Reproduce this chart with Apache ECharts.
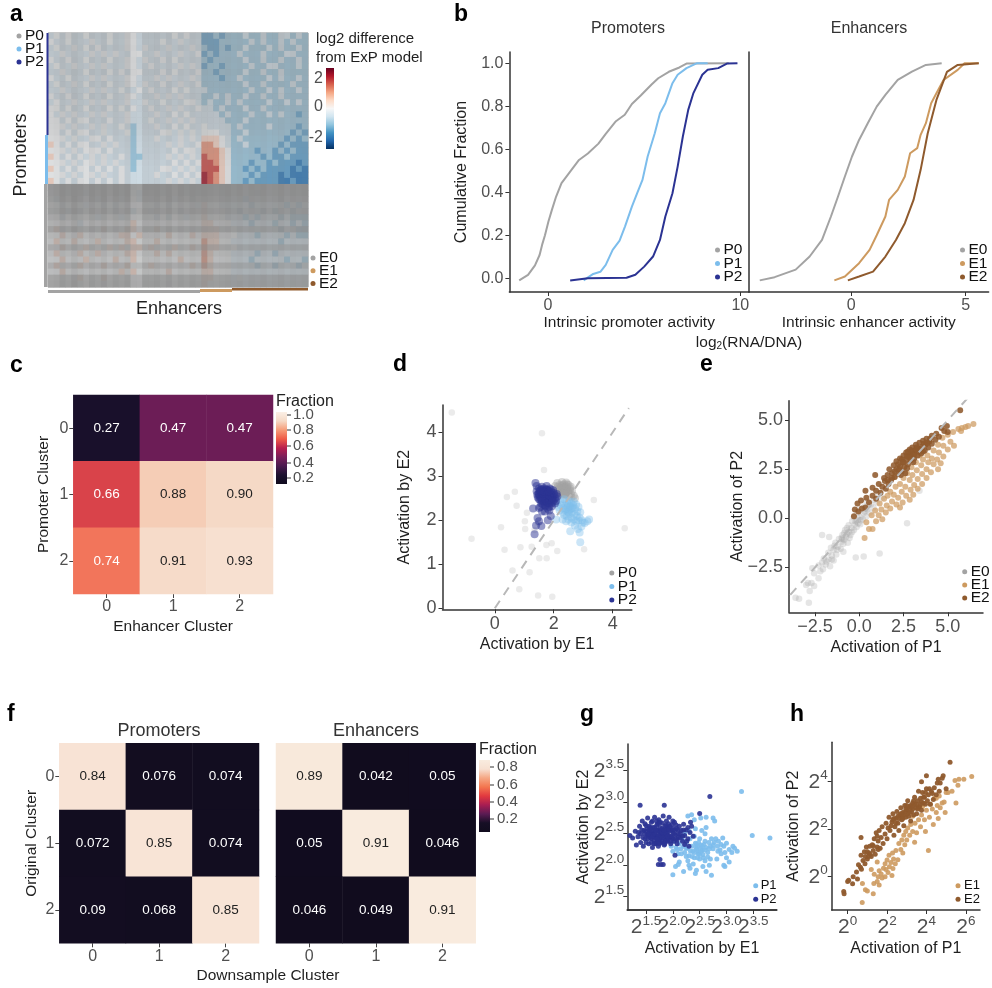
<!DOCTYPE html>
<html><head><meta charset="utf-8">
<style>html,body{margin:0;padding:0;background:#fff}#c{width:992px;height:988px}</style>
<script src="https://cdn.jsdelivr.net/npm/echarts@6/dist/echarts.min.js"></script>
</head><body><div id="c"></div>
<script>
// ---------- panel a: coarse reading of the mean colour of the clustered matrix (digit = value code)
const heatA = [
"45454454445445544444454544"+"22323"+"3343343344343",
"54454445445445544445445444"+"22233"+"3334343343433",
"45445454544445545444544454"+"32232"+"3343334343343",
"44544445454544554454445445"+"23233"+"3433343334433",
"54454454445445545445454444"+"32333"+"3343343343343",
"45445445454445544544445454"+"23323"+"3334334433343",
"44544454445454554445454445"+"33233"+"3343343343333",
"54454445454445544454544454"+"33323"+"3433334343343",
"45445454445445545445445445"+"33333"+"3343343333433",
"44544445454454454544454544"+"43333"+"3334334343343",
"54454454445445544454545444"+"33434"+"3343343343333",
"45445445454445445445444554"+"34334"+"3433334334343",
"55454454445454544544545445"+"44343"+"3343343333333",
"54545445454445444454454544"+"44434"+"3334334343323",
"55454554445445444544545454"+"44443"+"3343333333333",
"55545445454454344454454544"+"54444"+"3433334333323",
"55454554454445344445545454"+"55544"+"3343333333232",
"55545445545444344454445454"+"66654"+"3433333332323",
"65454554454544344444545445"+"77654"+"3343333323222",
"55545455545444344444454554"+"77765"+"3333233232322",
"65454545454454334444545454"+"87765"+"3333323223222",
"55545455454544344444454545"+"88765"+"3332332322212",
"65454554545454344445545454"+"88865"+"3323232222121",
"55545455454454444454454545"+"98765"+"3332322212111",
"65454554545454444444545454"+"98765"+"3323222211211",
"55455455455454554545455455"+"55544"+"4444444444444",
"55545545545545545554555454"+"55544"+"4444344444444",
"54555455455545545455545545"+"55544"+"4434444434444",
"55455545545455555545455554"+"65544"+"4443444443434",
"55545455555455455455554555"+"65554"+"4344434344344",
"55455555455545555545455455"+"65554"+"4434344434333",
"55555455555555655555555555"+"66555"+"4443444344343",
"56555555565556655565555555"+"66655"+"5444444434433",
"55655655555566565555655565"+"66655"+"5444344443433",
"56556555655556655565555555"+"76655"+"4444444434444",
"55655565556565665655565565"+"76655"+"5444444444444",
"56555655655556655565655555"+"76555"+"4444344344444",
"55655565555655655555556555"+"76555"+"4443444443443",
"56555655565556555655555565"+"76555"+"4444344344434",
"55655555555565655555655555"+"66555"+"4444444444444",
"55555655565555555555555555"+"66555"+"4544444444444",
"55555555555555555555555555"+"65555"+"4444444444444"];
const codeVal = [-2.4,-1.8,-1.3,-.85,-.35,-.05,.45,1.1,1.7,2.3];
const missRow = [.48,.46,.48,.45,.47,.46,.48,.45,.47,.45,.47,.44,.45,.43,.43,.42,.4,.36,.34,.32,.3,.28,.26,.26,.26,
  .97,.96,.93,.86,.9,.8,.72,.86,.66,.6,.78,.62,.56,.74,.6,.82,.84];
const colAdj = [-.06,-.03,.05,.0,.08,.02,-.03,.05,.0,.06,-.02,.04,.0,.05,-.12,-.14,.03,.02,.05,.0,.06,-.02,.04,.0,.05,.02,
  .04,.02,.0,.02,.04,.0,.03,-.02,.02,.0,.03,-.02,.0,.03,-.02,.02,.0,.02];
const rdbuStops = [[-2.75,'#08306b'],[-2.1,'#1c62a8'],[-1.5,'#3f8cc3'],[-.9,'#93c4de'],[-.3,'#dde9f1'],[0,'#f7f7f7'],[.3,'#fbe5da'],[.9,'#f4a98a'],[1.5,'#d75f4f'],[2.1,'#b2182b'],[2.75,'#6d0a1c']];
// ---------- panel b
const bP0 = [[-1.5,-.01],[-1.04,.016],[-.68,.06],[-.44,.108],[-.31,.155],[-.16,.2],[.02,.264],[.2,.318],[.42,.38],[.7,.442],[1.15,.496],[1.61,.55],[2.07,.58],[2.62,.626],[2.99,.67],[3.53,.73],[3.99,.76],[4.36,.81],[4.82,.85],[5.37,.9],[5.73,.93],[6.28,.96],[6.83,.98],[7.2,.998],[9.4,1]];
const bP1 = [[1.85,-.01],[2.35,.02],[2.72,.03],[3,.062],[3.36,.132],[3.72,.175],[4,.24],[4.36,.333],[4.63,.395],[4.91,.457],[5.18,.566],[5.55,.674],[5.82,.767],[6.1,.814],[6.47,.907],[6.74,.946],[7.2,.977],[7.75,1],[8.3,1]];
const bP2 = [[1.15,-.01],[2.07,0],[4.08,.002],[4.54,.016],[5,.054],[5.46,.101],[5.82,.178],[6.1,.287],[6.47,.395],[6.74,.519],[7.01,.659],[7.29,.783],[7.56,.861],[8.02,.946],[8.3,.969],[8.85,.977],[9.3,.998],[9.85,1]];
const bE0 = [[-4.0,-.01],[-3.35,.005],[-2.43,.04],[-1.82,.101],[-1.28,.178],[-.89,.287],[-.58,.38],[-.28,.473],[.03,.566],[.34,.643],[.72,.721],[1.11,.798],[1.49,.853],[2.03,.922],[2.65,.961],[3.26,.992],[3.95,1]];
const bE1 = [[-.74,-.01],[-.28,.008],[.34,.07],[.8,.132],[1.11,.2],[1.49,.287],[1.65,.364],[2.03,.411],[2.34,.473],[2.57,.581],[2.88,.605],[3.03,.667],[3.26,.721],[3.49,.814],[3.72,.86],[4.03,.922],[4.65,.969],[4.95,1],[5.57,1]];
const bE2 = [[-.15,-.01],[.34,.008],[.95,.031],[1.49,.101],[1.95,.178],[2.34,.256],[2.72,.364],[3.03,.504],[3.34,.674],[3.72,.829],[4.18,.96],[4.65,.992],[5.57,1]];
// ---------- panels c, f
const catLabels = ['0','1','2'];
const heatC = [[0,0,.27],[1,0,.47],[2,0,.47],[0,1,.66],[1,1,.88],[2,1,.90],[0,2,.74],[1,2,.91],[2,2,.93]];
const heatFP = [[0,0,.84],[1,0,.076],[2,0,.074],[0,1,.072],[1,1,.85],[2,1,.074],[0,2,.09],[1,2,.068],[2,2,.85]];
const heatFE = [[0,0,.89],[1,0,.042],[2,0,.05],[0,1,.05],[1,1,.91],[2,1,.046],[0,2,.046],[1,2,.049],[2,2,.91]];
const rocket = ['#0f0b1e','#1d1230','#4a1a4e','#7a1f5a','#b81f4e','#ef5b47','#f69c78','#f5d9c6','#fbf0e6'];
const rocketF = ['#110c1e','#160f25','#5a1b53','#a81d52','#e2393f','#f3764f','#f5a784','#f7e0d1','#f9ecdf'];
// ---------- panel d
const dOut = [[-1.46,4.45],[1.6,3.98],[1.67,3.14],[.41,2.53],[.68,2.65],[.74,2.33],[1.09,2.17],[1.02,1.98],[1.03,1.8],[.21,1.84],[-.79,1.58],[.33,1.33],[.87,1.39],[1.25,1.4],[1.75,1.44],[2.12,1.3],[1.51,1.14],[1.76,1.14],[.6,.86],[1.18,.82],[.83,.43],[1.47,.29],[1.95,.26],[3.03,1.34],[3.36,2.46],[4.41,1.82],[1.35,1.78],[1.47,1.93],[1.93,1.48]];
const dP0 = [[2.05,2.78],[2.12,2.85],[2.2,2.8],[2.28,2.87],[2.36,2.82],[2.42,2.86],[2.5,2.8],[2.58,2.76],[2.15,2.7],[2.22,2.74],[2.3,2.72],[2.38,2.76],[2.46,2.72],[2.54,2.68],[2.62,2.66],[2.1,2.62],[2.18,2.64],[2.26,2.66],[2.34,2.66],[2.42,2.64],[2.5,2.62],[2.58,2.6],[2.68,2.56],[2.28,2.58],[2.36,2.58],[2.44,2.56],[2.52,2.54],[2.6,2.52],[2.72,2.5],[2.3,2.8],[2.4,2.7],[2.32,2.62],[2.2,2.58],[2.46,2.82],[2.24,2.7],[2.56,2.72],[2.34,2.74],[2.14,2.76],[2.48,2.66],[2.38,2.6],[2.26,2.78],[2.44,2.76]];
const dP1 = [[2.1,2.4],[2.2,2.46],[2.28,2.4],[2.36,2.48],[2.44,2.42],[2.52,2.44],[2.6,2.38],[2.68,2.42],[2.76,2.36],[2.84,2.3],[2.16,2.3],[2.24,2.34],[2.32,2.28],[2.4,2.34],[2.48,2.3],[2.56,2.32],[2.64,2.28],[2.72,2.26],[2.8,2.2],[2.9,2.18],[2.2,2.22],[2.3,2.18],[2.38,2.24],[2.46,2.2],[2.54,2.24],[2.62,2.18],[2.7,2.14],[2.78,2.1],[2.88,2.06],[2.36,2.12],[2.44,2.1],[2.52,2.14],[2.6,2.06],[2.68,2.02],[2.76,1.98],[2.84,2.0],[2.95,2.0],[3.05,1.94],[3.14,1.98],[3.2,2.02],[2.94,1.86],[2.98,1.95],[2.82,1.8],[2.88,1.72],[2.9,1.5],[2.3,2.02],[2.08,2.02],[2.42,1.98],[2.56,1.75],[2.6,1.95],[2.5,2.02],[2.72,1.88],[2.5,2.36],[2.42,2.26],[2.58,2.26],[2.66,2.34],[2.5,2.18]];
const dP2 = [[1.42,2.66],[1.48,2.6],[1.46,2.52],[1.5,2.72],[1.54,2.46],[1.52,2.66],[1.56,2.56],[1.6,2.76],[1.58,2.38],[1.62,2.66],[1.64,2.5],[1.66,2.58],[1.68,2.72],[1.66,2.42],[1.7,2.34],[1.72,2.64],[1.74,2.52],[1.76,2.78],[1.74,2.44],[1.78,2.58],[1.8,2.68],[1.82,2.48],[1.84,2.38],[1.84,2.6],[1.86,2.72],[1.88,2.54],[1.9,2.44],[1.92,2.64],[1.94,2.32],[1.96,2.56],[1.98,2.68],[2.0,2.46],[2.02,2.58],[2.06,2.5],[2.04,2.38],[2.1,2.6],[1.6,2.6],[1.7,2.5],[1.76,2.62],[1.68,2.46],[1.82,2.56],[1.62,2.54],[1.74,2.7],[1.9,2.58],[1.56,2.62],[1.86,2.46],[1.72,2.56],[1.8,2.6],[1.66,2.66],[1.96,2.5],[1.52,2.54],[1.78,2.5],[1.88,2.62],[1.64,2.7],[1.7,2.6],
 [1.44,2.58],[1.5,2.48],[1.5,2.6],[1.58,2.48],[1.58,2.7],[1.64,2.36],[1.64,2.6],[1.72,2.48],[1.72,2.32],[1.78,2.68],[1.8,2.4],[1.86,2.56],[1.92,2.38],[1.94,2.5],[2.0,2.62],[2.08,2.44],[1.76,2.38],[1.68,2.64],[1.84,2.66],[1.54,2.68],[1.6,2.44],[1.96,2.42],[2.12,2.54],[1.84,2.3],[1.9,2.7],
 [1.45,2.05],[1.5,1.98],[1.4,1.88],[1.35,1.68],[1.58,1.87],[1.3,2.27],[1.38,2.85],[1.42,2.78],[1.9,2.1],[1.8,2.0],[1.7,2.2],[1.55,2.3],[1.85,2.22],[1.5,2.28],[1.6,2.2],[1.8,2.26]];
const dLine = [[0,0],[4.55,4.55]];
// ---------- panel e
const eE0 = [[-3.6,-4.05],[-3.4,-4.1],[-2.85,-4.3],[-3.0,-3.4],[-2.8,-3.7],[-2.7,-3.3],[-2.55,-3.45],[-2.9,-3.3],[-2.3,-3.05],[-2.55,-2.8],[-2.65,-2.55],[-2.2,-2.7],[-2.05,-2.6],[-2.3,-2.4],[-2.1,-2.25],[-1.9,-2.35],[-1.75,-2.1],[-2.0,-2.05],[-1.65,-2.45],[-1.55,-1.9],[-1.75,-1.75],[-1.45,-1.6],[-1.3,-1.85],[-1.6,-1.5],[-1.2,-1.45],[-1.35,-1.25],[-1.05,-1.55],[-1.0,-1.2],[-1.15,-1.05],[-.85,-1.1],[-.95,-.85],[-.75,-.95],[-.65,-1.25],[-.6,-.7],[-.8,-.6],[-.5,-.85],[-.45,-.5],[-.6,-.35],[-.3,-.6],[-.25,-.3],[-.4,-.15],[-.15,-.45],[-.1,-.1],[-.3,.05],[.05,-.3],[.05,.05],[-.1,.25],[.2,-.05],[.25,.25],[.05,.45],[.4,.1],[.45,.45],[.3,.6],[.6,.3],[.65,.7],[.45,.85],[.8,.55],[.85,.95],[1.0,.8],[1.1,1.25],[1.3,1.05],[-1.7,-.95],[-2.1,-.85],[-.2,-2.0],[1.15,-1.8],[.25,-1.95],[2.7,-.25],[3.4,1.4],[2.2,2.3],[2.6,3.1],[-.9,-1.7],[-1.45,-2.15],
 [-1.0,-1.0],[-.9,-1.3],[-.7,-.8],[-.55,-1.0],[-.4,-.7],[-.2,-.15],[-.05,-.25],[.1,-.1],[.3,.35],[-.85,-.75],[-1.25,-1.6],[-1.4,-1.4],[-1.85,-2.2],[-1.55,-2.1],[-.7,-.5],[-.95,-1.05]];
const eE1 = [[.3,-1.0],[.55,-.55],[.75,-.55],[.4,-.2],[.95,-.15],[.7,.15],[1.1,.15],[1.3,-.05],[.9,.4],[1.25,.45],[1.5,.3],[1.15,.75],[1.55,.65],[1.75,.5],[1.4,1.0],[1.85,.85],[2.1,.7],[2.3,.55],[1.95,1.2],[2.2,1.05],[2.45,.8],[1.75,1.35],[2.05,1.6],[2.4,1.35],[2.65,1.15],[2.85,.95],[2.3,1.75],[2.6,1.6],[2.9,1.45],[3.05,1.2],[2.5,2.05],[2.85,1.95],[3.1,1.7],[3.3,1.5],[2.7,2.3],[3.0,2.2],[3.3,2.0],[3.55,1.75],[2.95,2.6],[3.25,2.45],[3.55,2.25],[3.8,2.05],[3.2,2.85],[3.5,2.7],[3.8,2.5],[4.05,2.35],[3.6,3.0],[3.9,2.85],[4.2,2.75],[4.45,2.5],[3.85,3.2],[4.1,3.05],[4.4,3.0],[4.6,2.8],[4.2,3.45],[4.5,3.35],[4.75,3.15],[4.45,3.75],[4.75,3.7],[5.0,3.5],[5.15,3.9],[4.7,4.1],[5.0,4.25],[5.35,3.7],[5.3,4.4],[5.6,4.55],[5.8,4.6],[6.0,4.65],[6.45,4.8],[6.15,4.7],[5.75,4.45],[2.0,2.1],[1.6,1.15],[3.4,3.2]];
const eE2 = [[-.3,.1],[-.25,.45],[-.05,.35],[-.1,.75],[.15,.5],[.1,.9],[.35,.55],[.4,1.05],[.55,.8],[.35,1.4],[.75,1.15],[.75,1.55],[.95,1.0],[.95,1.4],[1.1,1.75],[1.2,1.3],[1.3,1.6],[.9,2.2],[1.45,1.9],[1.5,1.5],[1.6,2.2],[1.65,1.75],[1.7,2.5],[1.8,1.95],[1.85,2.3],[1.95,2.7],[2.0,2.1],[2.1,2.5],[2.1,2.9],[2.2,2.25],[2.3,2.65],[2.3,3.05],[2.4,2.4],[2.45,2.85],[2.5,3.2],[2.55,2.6],[2.65,3.0],[2.65,3.35],[2.75,2.75],[2.8,3.2],[2.85,3.5],[2.9,2.95],[3.0,3.3],[3.0,3.6],[3.1,3.05],[3.15,3.45],[3.2,3.75],[3.3,3.2],[3.35,3.55],[3.4,3.85],[3.5,3.3],[3.55,3.65],[3.6,3.95],[3.7,3.45],[3.75,3.75],[3.8,4.05],[3.9,3.6],[3.95,3.9],[4.1,3.8],[4.1,4.2],[4.3,4.0],[4.35,4.3],[4.5,4.15],[4.65,4.6],[4.8,4.45],[4.95,4.7],[5.0,4.4],[2.6,2.3],[2.2,2.75],[3.25,3.6],[2.7,3.15],[3.05,2.85],[2.4,3.0],[2.9,3.25],[3.45,3.5],[1.4,2.05],[5.7,5.5],
 [2.35,2.2],[2.5,2.85],[2.85,3.1],[2.95,3.45],[3.1,3.25],[3.3,3.4],[3.5,3.5],[3.6,3.4],[3.65,3.8],[2.25,2.5],[2.0,2.4],[1.85,2.05],[2.7,2.55],[2.75,3.4],[3.2,3.5],[3.85,3.85],[4.0,4.05],[1.6,1.95]];
const eLine = [[-3.9,-3.9],[6.62,6.62]];
// ---------- panel g (log2 values)
const gP1 = [[1.97,2.3],[2.0,2.22],[2.03,2.38],[2.06,2.28],[2.1,2.18],[2.12,2.34],[2.15,2.26],[2.18,2.4],[2.2,2.3],[2.22,2.2],[2.25,2.36],[2.27,2.27],[2.3,2.15],[2.32,2.42],[2.35,2.3],[2.37,2.22],[2.4,2.46],[2.42,2.35],[2.45,2.26],[2.47,2.18],[2.5,2.42],[2.52,2.32],[2.55,2.24],[2.57,2.12],[2.6,2.38],[2.62,2.28],[2.65,2.2],[2.67,2.36],[2.7,2.3],[2.72,2.42],[2.75,2.26],[2.77,2.36],[2.8,2.42],[2.83,2.3],[2.85,2.38],[2.88,2.24],[2.9,2.33],[2.93,2.43],[2.95,2.3],[2.97,2.2],[3.0,2.35],[3.05,2.25],[3.1,2.2],[3.15,2.27],[3.2,2.22],[3.12,2.3],[2.4,2.12],[2.5,2.1],[2.6,2.07],[2.65,2.13],[2.7,2.1],[2.82,2.1],[2.9,2.18],[2.95,2.0],[3.0,2.12],[2.97,1.98],[3.05,2.05],[2.3,2.0],[2.12,2.05],[2.05,1.98],[2.2,1.9],[2.32,1.95],[2.44,1.92],[2.56,1.98],[2.62,1.9],[2.68,2.0],[2.42,1.87],[2.72,1.84],[2.0,1.85],[2.1,2.01],[2.28,2.07],[2.38,2.02],[2.48,2.2],[2.58,2.33],[2.43,2.28],[2.33,2.22],[2.52,2.26],[2.46,2.3],[2.55,2.3],[2.48,2.36],[2.6,2.5],[2.62,2.6],[2.54,2.55],[2.75,2.75],[2.78,2.7],[2.62,2.76],[2.52,2.75],[2.4,2.72],[2.35,2.8],[2.28,2.78],[2.42,2.58],[2.3,2.55],[2.22,2.5],[3.28,3.17],[3.48,2.47],[3.81,2.43],
 [2.44,2.24],[2.5,2.17],[2.53,2.22],[2.4,2.2],[2.36,2.14],[2.56,2.17],[2.44,2.33],[2.25,2.27],[2.16,2.18],[2.08,2.25],[2.6,2.24],[2.75,2.32],[2.84,2.22],[2.68,2.26],[2.46,2.12],[2.25,2.14]];
const gP2 = [[1.2,2.47],[1.25,2.43],[1.3,2.54],[1.32,2.32],[1.35,2.45],[1.38,2.62],[1.4,2.36],[1.4,2.5],[1.43,2.7],[1.45,2.3],[1.46,2.55],[1.48,2.42],[1.5,2.63],[1.52,2.48],[1.53,2.75],[1.55,2.34],[1.56,2.56],[1.58,2.44],[1.6,2.68],[1.6,2.5],[1.62,2.28],[1.63,2.6],[1.65,2.4],[1.66,2.76],[1.67,2.52],[1.68,2.34],[1.7,2.64],[1.7,2.46],[1.72,2.56],[1.73,2.3],[1.74,2.72],[1.75,2.42],[1.76,2.6],[1.77,2.5],[1.78,2.36],[1.8,2.67],[1.8,2.46],[1.82,2.78],[1.82,2.56],[1.84,2.32],[1.85,2.62],[1.85,2.42],[1.87,2.52],[1.88,2.7],[1.9,2.38],[1.9,2.6],[1.92,2.47],[1.93,2.76],[1.95,2.55],[1.96,2.34],[1.98,2.64],[1.98,2.44],[2.0,2.52],[2.02,2.38],[2.03,2.68],[2.05,2.48],[2.07,2.58],[2.08,2.4],[2.1,2.5],[2.12,2.62],[2.14,2.44],[2.16,2.55],[2.18,2.38],[2.2,2.65],[2.22,2.47],[2.25,2.56],[2.28,2.42],[2.32,2.52],[2.33,2.68],[1.62,2.54],[1.68,2.44],[1.74,2.5],[1.7,2.56],[1.78,2.44],[1.82,2.48],[1.86,2.56],[1.6,2.42],[1.66,2.6],[1.58,2.52],[1.76,2.54],[1.72,2.4],[1.9,2.52],[1.94,2.44],[1.84,2.5],[1.54,2.46],[1.98,2.56],[1.64,2.48],[1.5,2.54],[1.44,2.44],[1.8,2.38],[2.04,2.56],[2.0,2.42],[1.56,2.62],[1.88,2.44],[1.92,2.58],[2.1,2.44],[1.7,2.7],[2.22,2.33],[2.3,2.3],[2.38,2.46],[1.39,2.95],[1.84,2.95],[2.69,3.09],[2.04,2.16],[1.76,2.09],[1.73,2.01],[1.82,2.01],[1.78,2.01],[2.35,2.62],[2.5,2.82],
 [1.48,2.5],[1.53,2.42],[1.56,2.5],[1.6,2.36],[1.63,2.46],[1.66,2.5],[1.7,2.36],[1.73,2.46],[1.76,2.44],[1.78,2.54],[1.8,2.52],[1.83,2.44],[1.86,2.38],[1.88,2.5],[1.92,2.42],[1.94,2.62],[1.96,2.46],[2.0,2.58],[2.02,2.5],[2.06,2.42],[2.1,2.56],[2.14,2.5],[2.18,2.46],[2.2,2.56],[1.52,2.58],[1.58,2.6],[1.62,2.7],[1.68,2.56],[1.72,2.66],[1.76,2.68],[1.8,2.58],[1.84,2.56],[1.87,2.64],[1.92,2.66],[2.0,2.7],[2.06,2.64],[1.65,2.34],[1.75,2.34],[1.85,2.34],[1.95,2.38],[2.08,2.34],[1.42,2.56],[1.36,2.52],[2.26,2.38],[2.28,2.6],[1.5,2.36],[1.48,2.66],[1.6,2.56],[1.7,2.42],[1.9,2.46]];
const sup1 = [1.5,2,2.5,3,3.5];
const sup1A = [1.5,2.5,3.5];
const sup1B = [2,3];
// ---------- panel h (log2 values)
const hE1 = [[.74,-1.08],[.75,-.28],[.9,-.55],[1.0,-.6],[1.3,-.72],[1.33,-.28],[1.35,.1],[1.55,.0],[1.6,.25],[1.6,-.35],[1.7,.12],[1.75,-.05],[1.82,.36],[1.9,.55],[1.9,.0],[1.95,.3],[2.0,.7],[2.05,.18],[2.1,.9],[2.12,.42],[2.2,.6],[2.28,1.0],[2.3,.35],[2.33,.75],[2.42,.55],[2.45,1.1],[2.55,.72],[2.6,1.4],[2.7,1.15],[2.75,1.55],[2.8,1.0],[2.85,1.75],[2.9,1.35],[2.95,1.9],[3.0,1.55],[3.05,2.05],[3.15,1.75],[3.2,2.2],[3.3,1.9],[3.4,1.45],[3.42,2.25],[3.5,1.85],[3.6,2.4],[3.7,2.1],[3.75,2.6],[3.8,2.95],[3.9,2.4],[3.95,1.9],[4.0,2.8],[4.1,1.1],[4.15,2.5],[4.2,3.05],[4.3,2.85],[4.35,2.2],[4.4,3.3],[4.5,2.7],[4.55,3.0],[4.6,2.45],[4.65,3.4],[4.7,2.9],[4.8,3.1],[4.9,3.15],[4.95,2.7],[5.0,3.55],[5.1,3.55],[5.3,3.6],[5.5,3.1],[5.45,4.05],[5.6,3.85],[5.65,4.1],[5.9,4.1],[6.3,4.22],[4.5,3.3],[3.3,2.55],[2.25,.05],[1.5,-.2],[1.2,.3],[1.5,.62]];
const hE2 = [[-.2,-.62],[-.18,-.72],[.0,-.2],[.05,-.15],[.25,-.3],[.28,0],[.45,.2],[.5,-.1],[.55,.5],[.65,.4],[.68,.9],[.7,.32],[.78,.68],[.85,1.05],[.88,.55],[.95,1.25],[1.0,.75],[1.08,1.0],[1.12,1.28],[1.2,.85],[1.25,1.35],[1.3,1.1],[1.4,.95],[1.35,1.6],[1.45,1.85],[1.5,1.25],[1.55,1.5],[1.6,1.95],[1.7,1.65],[1.75,2.1],[1.8,1.4],[1.9,1.8],[1.95,2.25],[2.0,1.6],[2.05,2.05],[2.1,2.5],[2.15,1.95],[2.25,2.3],[2.3,2.65],[2.35,1.75],[2.4,2.1],[2.45,2.45],[2.5,2.75],[2.55,2.25],[2.6,1.95],[2.65,2.6],[2.7,2.9],[2.75,2.4],[2.8,2.7],[2.85,2.15],[2.9,3.0],[2.95,2.5],[3.0,2.8],[3.05,3.2],[3.1,2.55],[3.15,2.95],[3.2,2.35],[3.25,2.75],[3.3,3.1],[3.35,2.6],[3.4,3.35],[3.45,2.9],[3.5,2.65],[3.55,3.2],[3.6,3.6],[3.65,2.95],[3.7,3.3],[3.75,2.8],[3.8,3.55],[3.85,3.1],[3.9,3.35],[3.95,3.05],[4.0,3.7],[4.05,3.2],[4.1,3.45],[4.2,3.05],[4.25,3.6],[4.35,3.25],[4.4,3.75],[4.5,3.45],[4.55,3.95],[4.65,3.6],[4.7,3.95],[4.8,4.15],[2.75,2.55],[2.55,2.55],[3.05,2.65],[3.15,2.7],[2.9,2.7],[3.3,2.85],[3.5,3.05],[2.35,2.45],[2.95,2.85],[3.2,3.0],[3.0,3.0],[3.6,2.9],[3.75,3.15],[1.65,1.2],[1.0,1.05],[3.75,4.0],[4.0,4.25],[4.85,4.25],[4.6,4.1],[5.0,3.7],[5.2,4.82],[.68,1.65],
 [3.4,3.05],[3.55,2.85],[3.25,2.95],[3.1,2.85],[3.35,3.2],[3.7,3.05],[3.85,3.35],[2.85,2.6],[2.7,2.65],[2.6,2.45],[2.8,2.45],[2.45,2.25],[2.2,2.15],[2.3,2.4],[1.15,.95],[1.05,.85],[1.3,1.3],[1.55,1.15],[1.5,1.7],[.9,.85],[4.3,3.5],[4.15,3.7],[3.95,3.55]];
const sup2 = [0,2,4,6];
const supY = [0,2,4];

const FONT = 'Liberation Sans, Arial, sans-serif';
const INK = '#1f1f1f', TICK = '#505050', AX = '#333';
const colors = {P0:'#a3a3a3',P1:'#7cbdec',P2:'#2b3393',E0:'#a3a3a3',E1:'#cd9a5f',E2:'#8f5a2d'};

function hex(h){return [1,3,5].map(i=>parseInt(h.slice(i,i+2),16));}
function rdbu(v){
  for(let i=1;i<rdbuStops.length;i++){
    if(v<=rdbuStops[i][0]){const a=rdbuStops[i-1],b=rdbuStops[i],t=(v-a[0])/(b[0]-a[0]),A=hex(a[1]),B=hex(b[1]);return A.map((x,k)=>x+(B[k]-x)*t);}
  }
  return hex(rdbuStops[rdbuStops.length-1][1]);
}
function cellColor(d,r,c){
  const m=Math.min(1,Math.max(0,missRow[r]+colAdj[c])), col=rdbu(codeVal[d]), g=[140,140,140];
  return 'rgb('+col.map((x,k)=>Math.round(x*(1-m)+g[k]*m)).join(',')+')';
}
const grids=[],xAxes=[],yAxes=[],series=[],graphic=[];
function addGrid(x0,y0,x1,y1,xa,ya){
  grids.push({left:x0,top:y0,width:x1-x0,height:y1-y0,containLabel:false,show:false});
  const i=grids.length-1;
  xAxes.push(Object.assign({gridIndex:i},xa)); yAxes.push(Object.assign({gridIndex:i},ya));
  return i;
}
function valAxis(min,max,ticks,o){
  o=o||{};
  return {type:'value',min,max,scale:true,splitLine:{show:false},name:o.name,nameLocation:'middle',nameGap:o.gap,nameMoveOverlap:false,
    nameTextStyle:{fontFamily:FONT,fontSize:o.nameSize||16,color:INK,verticalAlign:'middle'},
    axisLine:{show:true,onZero:false,lineStyle:{color:AX,width:o.lw||1.5}},
    axisTick:{show:o.noTick?false:true,length:4,lineStyle:{color:AX,width:1},customValues:ticks},
    axisLabel:{show:o.noLabel?false:true,interval:0,hideOverlap:false,showMinLabel:true,showMaxLabel:true,customValues:ticks,margin:o.margin||6,fontFamily:FONT,fontSize:o.size||16,color:TICK,formatter:o.fmt,rich:o.rich}};
}
function catAxis(o){
  o=o||{};
  return {type:'category',data:catLabels,inverse:!!o.inverse,name:o.name,nameLocation:'middle',nameGap:o.gap,nameMoveOverlap:false,
    nameTextStyle:{fontFamily:FONT,fontSize:o.nameSize||15.5,color:INK,verticalAlign:'middle'},
    axisLine:{show:false},splitArea:{show:false},splitLine:{show:false},
    axisTick:{show:o.noTick?false:true,length:4,alignWithLabel:true,lineStyle:{color:'#444'}},
    axisLabel:{show:o.noLabel?false:true,margin:5,fontFamily:FONT,fontSize:16,color:TICK}};
}
function T(x,y,text,o){
  o=o||{};
  graphic.push({type:'text',x,y,rotation:o.rot||0,silent:true,z:50,style:{text,x:0,y:0,fontFamily:FONT,fontSize:o.size||15,fontWeight:o.weight||'normal',fill:o.color||INK,textAlign:o.align||'left',textVerticalAlign:'middle'}});
}
function R(x,y,w,h,fill){graphic.push({type:'rect',silent:true,z:50,shape:{x,y,width:w,height:h},style:{fill}});}
function L(x1,y1,x2,y2,c){graphic.push({type:'line',silent:true,z:50,shape:{x1,y1,x2,y2},style:{stroke:c||'#333',lineWidth:1}});}
function dot(x,y,c,r){graphic.push({type:'circle',silent:true,z:50,shape:{cx:x,cy:y,r:r||2.5},style:{fill:c}});}
function leg(x,y,step,names,size,tx){names.forEach((n,i)=>{dot(x,y+i*step,colors[n]);T(x+(tx||6),y+i*step,n,{size:size||15,color:'#111'});});}
function bar(x,y,w,h,stops){
  graphic.push({type:'rect',silent:true,z:50,shape:{x,y,width:w,height:h},style:{fill:new echarts.graphic.LinearGradient(0,0,0,1,stops.map((c,i)=>({offset:i/(stops.length-1),color:c})))}});
}

// panel letters
[['a',10,15],['b',454,15],['c',10,366],['d',393,365],['e',700,365],['f',7,715],['g',580,715],['h',790,715]].forEach(p=>T(p[1],p[2],p[0],{size:23,weight:'bold',color:'#000'}));

// ---- a
const ga=grids.length;
grids.push({left:48,top:33,width:260,height:254,show:true,backgroundColor:'#8c8c8c',borderColor:'#8f8f8f',borderWidth:1});
const nCols=heatA[0].length;
xAxes.push({gridIndex:ga,type:'category',show:false,data:Array.from({length:nCols},(_,i)=>i)});
yAxes.push({gridIndex:ga,type:'category',show:false,inverse:true,data:heatA.map((_,i)=>i)});
const aData=[];
heatA.forEach((s,r)=>[...s].forEach((ch,c)=>{const d=+ch;aData.push({value:[c,r,codeVal[d]],itemStyle:{color:cellColor(d,r,c)}});}));
series.push({name:'a',type:'heatmap',xAxisIndex:ga,yAxisIndex:ga,data:aData,progressive:0,itemStyle:{borderWidth:0}});
R(46.5,33,2,102,colors.P2);R(45,135,3,49,colors.P1);R(44,184,3,103,colors.P0);
R(48,290,152,3,colors.E0);R(200,289,32,3,colors.E1);R(232,288,76,2.5,colors.E2);
leg(19,36,13,['P0','P1','P2'],15.5);leg(313,258,12.8,['E0','E1','E2'],15.5);
T(21,155,'Promoters',{size:18,rot:Math.PI/2,align:'center'});T(179,309,'Enhancers',{size:18,align:'center'});
T(316,39,'log2 difference',{size:15});T(316,58,'from ExP model',{size:15});
bar(326,68,8,81,['#67001f','#b2182b','#d6604d','#f4a582','#fddbc7','#f7f7f7','#d1e5f0','#92c5de','#4393c3','#2166ac','#053061']);
T(323,79,'2',{size:16,align:'right',color:TICK});T(323,107,'0',{size:16,align:'right',color:TICK});T(323,138,'-2',{size:16,align:'right',color:TICK});

// ---- b
const lineS=(name,data,i)=>({name,type:'line',xAxisIndex:i,yAxisIndex:i,data,symbol:'none',smooth:false,lineStyle:{color:colors[name],width:2},animation:false});
const yTicks=[0,.2,.4,.6,.8,1];
const b1=addGrid(509.4,52,749,292,
 valAxis(-2.01,10.45,[0,10],{name:'Intrinsic promoter activity',gap:31,nameSize:15.5}),
 valAxis(-.064,1.052,yTicks,{name:'Cumulative Fraction',gap:48,fmt:v=>v.toFixed(1)}));
const b2=addGrid(749,52,988.6,292,
 valAxis(-4.47,6,[0,5],{name:'Intrinsic enhancer activity',gap:31,nameSize:15.5}),
 valAxis(-.064,1.052,[],{noTick:true,noLabel:true,lw:1.5}));
series.push(lineS('P0',bP0,b1),lineS('P1',bP1,b1),lineS('P2',bP2,b1),lineS('E0',bE0,b2),lineS('E1',bE1,b2),lineS('E2',bE2,b2));
T(628,29,'Promoters',{size:16,align:'center',color:'#333'});T(869,29,'Enhancers',{size:16,align:'center',color:'#333'});
graphic.push({type:'text',x:749,y:343,silent:true,z:50,style:{x:0,y:0,text:'log{s|2}(RNA/DNA)',rich:{s:{fontSize:10,fontFamily:FONT,fill:INK,padding:[6,0,0,0]}},fontFamily:FONT,fontSize:15.5,fill:INK,textAlign:'center',textVerticalAlign:'middle'}});
leg(717.5,250,13.5,['P0','P1','P2'],15.5);leg(962.5,250,13.5,['E0','E1','E2'],15.5);

// ---- c
function heatS(name,i,data,dark,flat){
  return {name,type:'heatmap',xAxisIndex:i,yAxisIndex:i,data:data.map(d=>({value:d,label:{color:d[2]>dark?'#222':'#fff'}})),
    label:{show:true,fontFamily:FONT,fontSize:13.5,formatter:p=>flat?String(p.value[2]):p.value[2].toFixed(2)},itemStyle:{borderWidth:0}};
}
const gc=addGrid(73.3,395,273,594,catAxis({name:'Enhancer Cluster',gap:33}),catAxis({inverse:true,name:'Promoter Cluster',gap:30}));
series.push(heatS('c',gc,heatC,.8,false));
const cIdx=series.length-1;
T(276,402,'Fraction',{size:16,color:'#222'});
bar(276,412,11,72,rocket.slice().reverse());
[['1.0',415],['0.8',430],['0.6',446],['0.4',463],['0.2',478]].forEach(a=>{L(287,a[1],291,a[1]);T(293,a[1],a[0],{size:15,color:TICK});});

// ---- d
const scatterS=(name,i,data,size,op,color)=>({name,type:'scatter',xAxisIndex:i,yAxisIndex:i,data,symbolSize:size,large:false,itemStyle:{color:color||colors[name],opacity:op,borderWidth:0}});
const dashS=(name,i,data)=>({name,type:'line',xAxisIndex:i,yAxisIndex:i,data,symbol:'none',z:5,silent:true,lineStyle:{color:'#b8b8b8',width:2,type:[9,7]}});
const gd=addGrid(442.5,405,631.8,609.3,
 valAxis(-1.776,4.65,[0,2,4],{name:'Activation by E1',gap:35,size:18}),
 valAxis(-.023,4.62,[0,1,2,3,4],{name:'Activation by E2',gap:38,size:18}));
series.push(scatterS('dOther',gd,dOut,6.5,.22,colors.P0),scatterS('P0',gd,dP0,8,.42),scatterS('P1',gd,dP1,8,.4),scatterS('P2',gd,dP2,8,.5),dashS('dDiag',gd,dLine));
leg(611.8,573,13.5,['P0','P1','P2'],15.5);

// ---- e
const fmt1=v=>v===0?'0.0':(v<0?'\u2212':'')+Math.abs(v).toFixed(1);
const ge=addGrid(789,400.7,983,612.3,
 valAxis(-3.97,6.99,[-2.5,0,2.5,5],{name:'Activation of P1',gap:35,size:18,fmt:fmt1}),
 valAxis(-4.79,5.99,[-2.5,0,2.5,5],{name:'Activation of P2',gap:51,size:18,fmt:fmt1}));
series.push(scatterS('E0',ge,eE0,6.5,.28),scatterS('E1',ge,eE1,6,.72),scatterS('E2',ge,eE2,6,.88),dashS('eDiag',ge,eLine));
leg(964.7,571.7,13.2,['E0','E1','E2'],15.5);

// ---- f
const fp=addGrid(59.3,743.3,259,943.3,catAxis({}),catAxis({inverse:true,name:'Original Cluster',gap:28}));
const fe=addGrid(276,743.3,475.7,943.3,catAxis({}),catAxis({inverse:true,noTick:true,noLabel:true}));
series.push(heatS('fP',fp,heatFP,.5,true));const fpIdx=series.length-1;
series.push(heatS('fE',fe,heatFE,.5,true));const feIdx=series.length-1;
T(159,731,'Promoters',{size:18,align:'center',color:'#333'});T(376,731,'Enhancers',{size:18,align:'center',color:'#333'});
T(268,976,'Downsample Cluster',{size:15.5,align:'center'});
T(479,750,'Fraction',{size:16,color:'#222'});
bar(479,760,11,72,rocketF.slice().reverse());
[['0.8',767],['0.6',785],['0.4',802],['0.2',819]].forEach(a=>{L(490,a[1],494,a[1]);T(497,a[1],a[0],{size:15,color:TICK});});

// ---- g  (the tick labels touch, so two axes carry alternate ticks and neither hides any)
const supRich={b:{fontFamily:FONT,fontSize:21,color:TICK},s:{fontFamily:FONT,fontSize:13.5,color:TICK,padding:[0,0,12,0]}};
const supFmt=v=>'{b|2}{s|'+v.toFixed(1)+'}';
const gg=addGrid(627.3,744,776.7,910,
 Object.assign(valAxis(1.151,3.936,sup1A,{name:'Activation by E1',gap:39,fmt:supFmt,rich:supRich,margin:4}),{position:'bottom'}),
 valAxis(1.289,3.924,sup1,{name:'Activation by E2',gap:44,fmt:supFmt,rich:supRich,margin:3}));
series.push(scatterS('P1',gg,gP1,5,.9),scatterS('P2',gg,gP2,5,.9));
leg(755.7,885.7,13.6,['P1','P2'],13,5);

// ---- h
const hh=addGrid(831.7,742.3,980,910,
 valAxis(-.81,6.72,sup2,{name:'Activation of P1',gap:39,fmt:v=>'{b|2}{s|'+v+'}',rich:supRich,margin:4}),
 valAxis(-1.4,5.66,supY,{name:'Activation of P2',gap:38,fmt:v=>'{b|2}{s|'+v+'}',rich:supRich,margin:4}));
series.push(scatterS('E1',hh,hE1,5,.9),scatterS('E2',hh,hE2,5,.95));
leg(958,885.7,13.6,['E1','E2'],13,6);

// second x axis of g, kept last so that axis indices still equal grid indices
xAxes.push(Object.assign({gridIndex:gg,position:'bottom',offset:0},valAxis(1.151,3.936,sup1B,{fmt:supFmt,rich:supRich,margin:4})));

const chart=echarts.init(document.getElementById('c'),null,{renderer:'canvas'});
chart.setOption({animation:false,backgroundColor:'#fff',textStyle:{fontFamily:FONT},grid:grids,xAxis:xAxes,yAxis:yAxes,series,graphic:{elements:graphic},
 visualMap:[
  {show:false,type:'continuous',seriesIndex:cIdx,dimension:2,min:.2,max:1,inRange:{color:rocket}},
  {show:false,type:'continuous',seriesIndex:[fpIdx,feIdx],dimension:2,min:.042,max:.92,inRange:{color:rocketF}}
 ]});
</script></body></html>
